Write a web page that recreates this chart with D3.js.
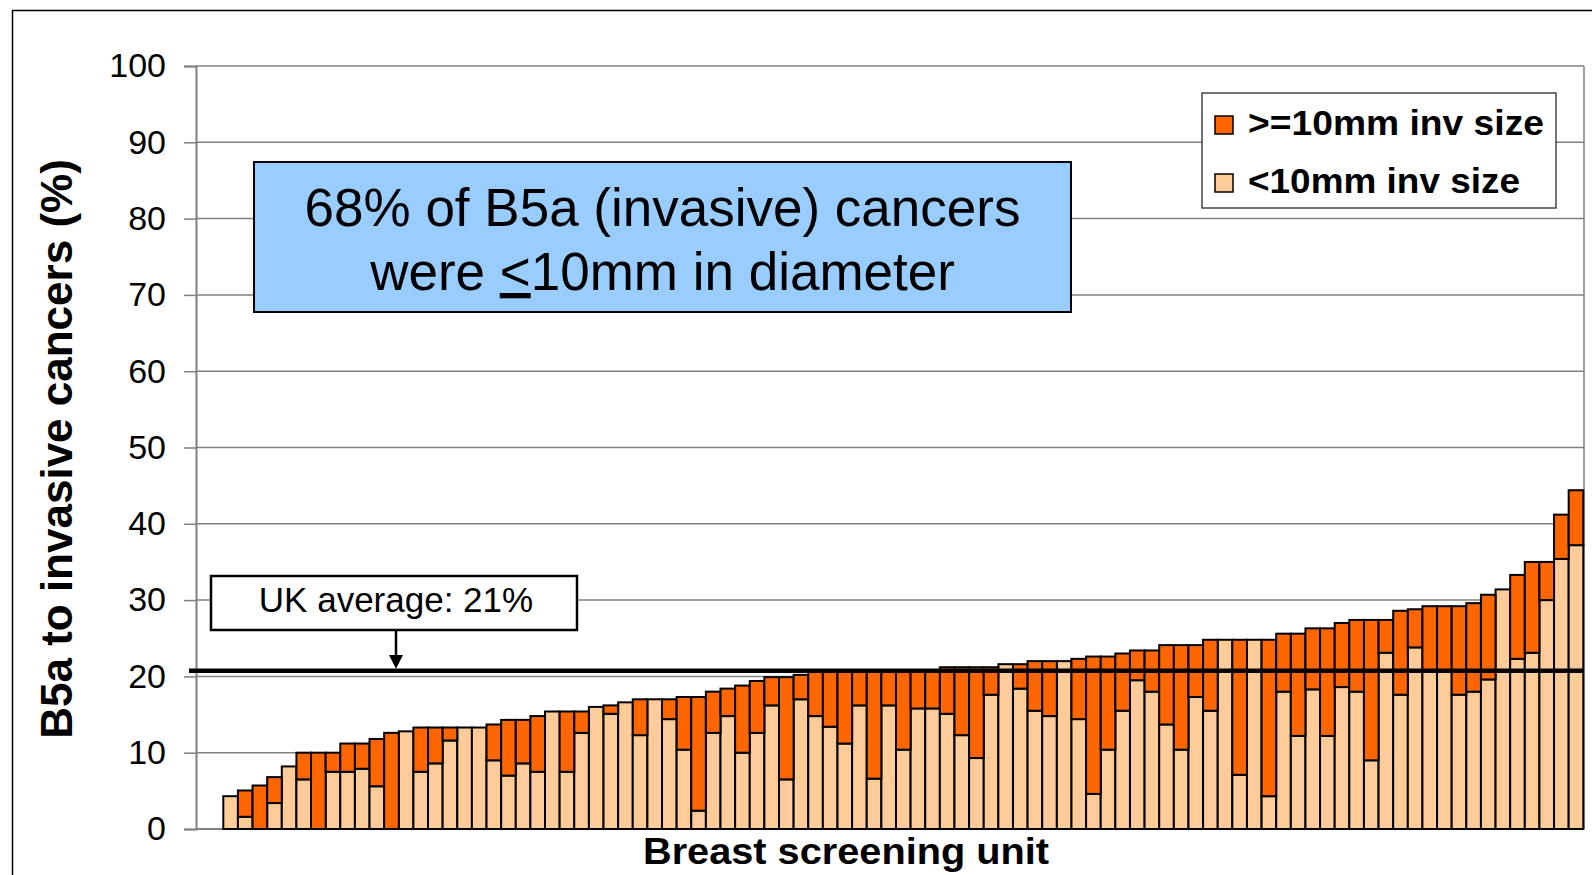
<!DOCTYPE html>
<html>
<head>
<meta charset="utf-8">
<script src="https://cdn.jsdelivr.net/npm/d3@7"></script>
<style>
  body { margin: 0; background: #fff; }
  text { font-family: "Liberation Sans", Arial, sans-serif; }
</style>
</head>
<body>
<div id="chart"></div>
<script>
// data: one bar per breast screening unit, sorted by total
const units = d3.range(1, 94);
const small = [4.3,1.6,0,3.4,8.2,6.5,0,7.5,7.5,7.9,5.6,0,12.8,7.5,8.6,11.6,13.3,13.3,9.0,7.0,
  8.6,7.5,15.4,7.5,12.6,16.0,15.1,16.6,12.3,17.0,14.4,10.4,2.4,12.6,14.8,10.0,12.6,16.2,6.5,17.0,
  14.8,13.4,11.2,16.2,6.6,16.2,10.4,15.8,15.8,15.1,12.3,9.3,17.6,21.6,18.4,15.5,14.8,22.0,14.4,4.6,
  10.4,15.5,19.5,18.0,13.7,10.4,17.3,15.5,24.8,7.1,24.8,4.3,18.0,12.2,18.3,12.2,18.6,18.0,9.0,23.1,
  17.6,23.8,20.8,20.8,17.6,18.0,19.6,31.4,22.3,23.1,30.0,35.4,37.2];
const large = [0,3.45,5.7,3.4,0,3.5,10.0,2.5,3.7,3.3,6.2,12.6,0,5.8,4.7,1.7,0,0,4.7,7.3,
  5.7,7.3,0,7.9,2.8,0,1.1,0,4.7,0,2.6,6.9,14.9,5.4,3.6,8.8,6.8,3.7,13.4,3.2,
  6.0,7.4,9.6,4.6,14.2,4.6,10.4,5.0,5.0,6.1,8.9,11.9,3.6,0,3.2,6.5,7.2,0,7.9,18.0,
  12.2,7.5,3.9,5.4,10.4,13.7,6.8,9.3,0,17.7,0,20.5,7.6,13.4,8.0,14.1,8.4,9.4,18.4,4.3,
  11.0,5.0,8.4,8.4,11.6,11.6,11.1,0,11.0,11.9,5.0,5.8,7.2];
const yTicks = [0,10,20,30,40,50,60,70,80,90,100];
const ukAverage = 20.75;
const seriesNames = [">=10mm inv size", "<10mm inv size"];
const colors = { small: "#FFCC99", large: "#FF6600" };

const W = 1592, H = 875;
const plot = { left: 196, right: 1584, top: 66, bottom: 829 };

const svg = d3.select("#chart").append("svg")
  .attr("width", W)
  .attr("height", H);

// outer frame
svg.append("rect")
  .attr("x", 12.5).attr("y", 10.5)
  .attr("width", 1620).attr("height", 900)
  .attr("fill", "none").attr("stroke", "#000").attr("stroke-width", 1.5);

const y = d3.scaleLinear().domain([0, 100]).range([plot.bottom, plot.top]);
const x = d3.scaleBand().domain(units).range([223.3, 1583.3]).padding(0);

// gridlines
svg.append("g")
  .selectAll("line")
  .data(yTicks.filter(d => d > 0))
  .join("line")
  .attr("x1", plot.left).attr("x2", plot.right)
  .attr("y1", d => y(d)).attr("y2", d => y(d))
  .attr("stroke", "#808080").attr("stroke-width", 1.5);

// right border of plot area
svg.append("line")
  .attr("x1", plot.right).attr("x2", plot.right)
  .attr("y1", plot.top).attr("y2", plot.bottom)
  .attr("stroke", "#808080").attr("stroke-width", 1.5);

// y axis
const yAxis = svg.append("g")
  .attr("transform", `translate(${plot.left},0)`)
  .call(d3.axisLeft(y).tickValues(yTicks).tickSize(12).tickPadding(18));
yAxis.select(".domain").attr("stroke", "#808080").attr("stroke-width", 2);
yAxis.selectAll(".tick line").attr("stroke", "#808080").attr("stroke-width", 1.5);
yAxis.selectAll(".tick text")
  .attr("font-size", 34)
  .attr("fill", "#000")
  .style("font-family", '"Liberation Sans", Arial, sans-serif');

// x axis baseline
svg.append("line")
  .attr("x1", plot.left).attr("x2", plot.right)
  .attr("y1", y(0)).attr("y2", y(0))
  .attr("stroke", "#808080").attr("stroke-width", 2);

// stacked bars
const table = units.map((u, i) => ({ unit: u, small: small[i], large: large[i] }));
const stacked = d3.stack().keys(["small", "large"])(table);

svg.append("g")
  .selectAll("g")
  .data(stacked)
  .join("g")
  .attr("fill", d => colors[d.key])
  .selectAll("rect")
  .data(d => d)
  .join("rect")
  .attr("x", d => x(d.data.unit))
  .attr("y", d => y(d[1]))
  .attr("width", x.bandwidth())
  .attr("height", d => y(d[0]) - y(d[1]))
  .attr("stroke", "#000")
  .attr("stroke-width", 2);

// UK average line
svg.append("line")
  .attr("x1", 189).attr("x2", plot.right)
  .attr("y1", y(ukAverage)).attr("y2", y(ukAverage))
  .attr("stroke", "#000").attr("stroke-width", 4.5);

// UK average label + arrow
svg.append("rect")
  .attr("x", 211).attr("y", 576)
  .attr("width", 366).attr("height", 54)
  .attr("fill", "#fff").attr("stroke", "#000").attr("stroke-width", 2.5);
svg.append("text")
  .attr("x", 396).attr("y", 612)
  .attr("text-anchor", "middle")
  .attr("font-size", 35)
  .text("UK average: 21%");
svg.append("line")
  .attr("x1", 396).attr("x2", 396)
  .attr("y1", 630).attr("y2", 657)
  .attr("stroke", "#000").attr("stroke-width", 2.5);
svg.append("path")
  .attr("d", `M389,655 L403,655 L396,${y(ukAverage) - 2} Z`)
  .attr("fill", "#000");

// blue annotation box
svg.append("rect")
  .attr("x", 254).attr("y", 162)
  .attr("width", 817).attr("height", 150)
  .attr("fill", "#99CCFF").attr("stroke", "#000").attr("stroke-width", 2);
svg.append("text")
  .attr("x", 662.5).attr("y", 226)
  .attr("text-anchor", "middle")
  .attr("font-size", 53)
  .text("68% of B5a (invasive) cancers");
const line2 = svg.append("text")
  .attr("x", 662.5).attr("y", 290)
  .attr("text-anchor", "middle")
  .attr("font-size", 53);
line2.append("tspan").text("were ");
line2.append("tspan").style("text-decoration", "underline").text("<");
line2.append("tspan").text("10mm in diameter");

// legend
svg.append("rect")
  .attr("x", 1202).attr("y", 93)
  .attr("width", 354).attr("height", 115)
  .attr("fill", "#fff").attr("stroke", "#444").attr("stroke-width", 1.5);
const legendRows = [
  { name: seriesNames[0], color: colors.large, y: 135, len: 296 },
  { name: seriesNames[1], color: colors.small, y: 193, len: 272 }
];
legendRows.forEach(r => {
  svg.append("rect")
    .attr("x", 1215).attr("y", r.y - 19)
    .attr("width", 18).attr("height", 18)
    .attr("fill", r.color).attr("stroke", "#000").attr("stroke-width", 1.5);
  svg.append("text")
    .attr("x", 1248).attr("y", r.y)
    .attr("font-size", 35)
    .attr("font-weight", "bold")
    .attr("textLength", r.len)
    .attr("lengthAdjust", "spacingAndGlyphs")
    .text(r.name);
});

// axis titles
svg.append("text")
  .attr("transform", "translate(72,449) rotate(-90)")
  .attr("text-anchor", "middle")
  .attr("font-size", 44)
  .attr("font-weight", "bold")
  .text("B5a to invasive cancers (%)");

svg.append("text")
  .attr("x", 846).attr("y", 864)
  .attr("text-anchor", "middle")
  .attr("font-size", 37)
  .attr("font-weight", "bold")
  .attr("textLength", 406)
  .attr("lengthAdjust", "spacingAndGlyphs")
  .text("Breast screening unit");
</script>
</body>
</html>
